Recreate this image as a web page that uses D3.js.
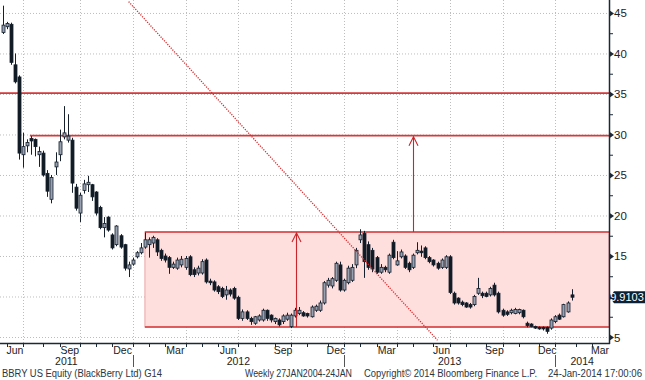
<!DOCTYPE html>
<html>
<head>
<meta charset="utf-8">
<script src="https://cdn.jsdelivr.net/npm/d3@7"></script>
<style>
  body { margin: 0; background: #fff; }
  svg { display: block; font-family: "Liberation Sans", Arial, sans-serif; }
</style>
</head>
<body>
<svg id="chart" width="645" height="380"></svg>
<script>
// Weekly bars, week ending Friday 20 May 2011 .. 24 Jan 2014
const firstWeek = new Date(2011, 4, 20);
const axisEnd = new Date(2014, 2, 29);

const openP = [42.6,43.3,43.6,38.6,37.1,27.5,28.6,29.5,29.4,27.5,27.7,25.2,22.0,26.0,27.5,29.7,29.3,29.3,23.5,20.3,
  23.1,23.8,23.8,22.9,21.0,18.5,19.8,17.6,16.4,17.5,16.4,13.4,14.0,14.9,15.4,16.1,16.4,16.6,17.0,15.7,
  15.0,14.8,13.6,13.5,13.9,13.6,14.9,13.3,12.9,12.9,14.5,11.9,11.8,11.2,11.0,10.2,10.8,11.0,9.9,7.3,
  8.1,7.3,6.7,7.1,7.1,8.3,7.7,6.9,7.1,6.9,7.2,6.3,7.6,7.9,8.0,7.9,7.5,8.3,8.3,9.2,
  11.4,11.3,12.0,13.9,10.8,11.7,12.0,13.9,17.0,17.8,16.4,15.7,14.8,13.0,13.6,13.0,16.7,13.9,14.9,15.0,
  14.1,13.6,15.4,15.6,16.0,14.8,14.5,14.1,13.6,13.6,14.9,10.4,9.8,9.3,9.2,9.0,9.0,10.4,10.4,10.4,
  10.2,11.4,10.4,8.3,8.1,8.0,7.9,8.0,8.3,6.7,6.6,6.3,6.2,6.2,6.2,6.1,6.9,7.7,7.5,8.1,
  10.2];
const highP = [45.9,43.9,43.8,40.0,37.3,30.2,29.4,29.8,29.5,28.5,28.0,25.6,25.0,27.8,30.6,33.5,32.5,29.6,23.9,22.8,
  24.4,24.9,23.9,23.0,21.2,19.8,19.9,17.8,18.8,17.7,16.5,14.3,14.8,15.6,16.6,17.9,17.3,17.5,17.2,15.9,
  15.3,15.0,14.3,14.8,15.0,15.0,15.1,13.6,13.8,14.6,14.7,12.2,12.0,11.4,11.2,11.3,11.0,11.2,10.1,8.4,
  8.3,7.5,7.6,7.8,8.5,8.4,7.8,7.4,7.3,7.8,8.0,7.9,8.6,8.7,8.2,8.0,8.9,9.0,9.5,11.9,
  12.3,12.4,14.3,14.3,12.2,13.8,14.0,16.0,18.3,18.1,16.8,16.0,15.0,14.0,13.8,15.3,17.0,15.6,15.8,15.2,
  14.3,15.3,16.7,16.3,16.2,15.0,14.6,14.3,14.7,15.1,15.1,10.6,9.9,9.5,9.3,9.2,10.2,12.3,10.6,10.6,
  11.2,11.7,10.6,8.5,8.3,8.5,8.6,8.5,8.4,6.9,6.7,6.4,6.3,6.3,6.3,7.3,7.7,7.9,9.1,9.4,
  10.9];
const lowP = [42.4,43.0,38.6,36.3,26.9,25.9,27.8,27.5,27.3,26.0,24.8,22.3,21.5,25.0,26.7,29.4,29.0,22.8,20.6,19.2,
  22.7,22.9,21.8,20.0,18.3,17.3,18.0,15.8,16.2,15.9,13.2,12.4,13.8,14.7,15.2,15.9,14.8,16.0,15.0,14.4,
  14.2,12.8,13.4,13.3,13.6,13.3,12.5,12.4,12.6,12.7,11.6,11.4,10.6,10.3,9.8,9.6,10.0,9.6,7.1,7.0,
  7.1,6.5,6.5,6.9,6.9,7.0,6.8,6.6,6.3,6.6,7.0,6.1,7.4,7.7,7.5,7.4,7.4,8.1,8.1,9.0,
  11.1,11.0,11.8,10.6,10.6,11.5,11.8,13.5,16.6,12.3,13.3,13.0,12.8,12.8,13.0,12.8,14.6,13.8,14.7,13.4,
  13.0,13.4,15.2,14.9,14.6,14.1,13.7,13.3,13.4,13.4,10.3,9.0,9.0,8.8,8.6,8.5,8.8,10.2,9.8,9.9,
  10.0,10.0,7.9,7.5,7.6,7.8,7.8,7.8,7.3,6.2,6.2,6.0,5.9,5.8,5.4,5.9,6.7,7.1,7.4,8.0,
  9.5];
const closeP = [43.5,43.7,38.9,36.5,27.7,28.5,29.0,29.2,28.5,27.9,25.0,23.0,24.7,26.6,29.1,30.2,29.8,24.0,20.9,22.5,
  23.9,24.1,22.3,20.3,18.5,19.0,18.2,16.0,18.7,16.1,13.5,13.9,14.5,15.4,16.0,17.0,17.0,17.3,15.5,14.7,
  14.5,13.6,14.0,14.5,14.6,14.7,12.7,12.7,13.5,14.3,11.8,11.7,10.8,10.6,10.0,10.8,10.3,9.8,7.3,8.1,
  7.3,6.9,7.5,7.6,8.3,7.3,7.1,7.3,6.5,7.6,7.7,7.7,8.3,8.3,7.6,7.6,8.7,8.8,9.2,11.7,
  12.0,12.2,14.1,10.8,12.0,13.5,13.6,15.7,17.6,14.3,13.6,13.4,13.0,13.6,13.3,15.1,14.8,14.4,15.5,13.6,
  13.3,15.1,15.7,15.4,14.8,14.3,13.9,13.5,14.5,14.9,10.5,9.2,9.2,9.0,8.7,8.7,10.0,11.0,10.1,10.0,
  11.0,10.2,8.1,7.7,7.8,8.3,8.4,8.4,7.5,6.4,6.3,6.1,6.0,6.0,5.7,7.1,7.5,7.2,9.0,9.2,
  9.91];

const yTicks = [5, 10, 15, 20, 25, 30, 35, 40, 45];
const yMinor = [7.5, 12.5, 17.5, 22.5, 27.5, 32.5, 37.5, 42.5];
const quarterMonths = ["Mar", "Jun", "Sep", "Dec"];
const lastLabel = "9.9103";

// annotations drawn on the chart
const levelValues = [35.1, 29.85];
const levelStartBar = [-0.66, 6.7];
const channelValues = [6.23, 17.96];
const channelStartBar = 35;
const arrowBars = [72.2, 101];
const trendBars = [31, 107];
const trendValues = [46.4, 4.6];

const footer = ["BBRY US Equity (BlackBerry Ltd) G14", "Weekly 27JAN2004-24JAN", "Copyright\u00a9 2014 Bloomberg Finance L.P.", "24-Jan-2014 17:00:06"];

const weeks = d3.timeFriday.range(firstWeek, axisEnd);
const bars = openP.map((o, i) => ({i: i, date: weeks[i], o: o, h: highP[i], l: lowP[i], c: closeP[i]}));

const svg = d3.select("#chart");
const plotW = 609, plotH = 343;

const x = d3.scaleLinear().domain([-0.66, 149.2]).range([0, plotW]);
const y = d3.scaleLinear().domain([4.26, 46.6]).range([plotH, 0]);

svg.append("defs").append("clipPath").attr("id", "plot")
  .append("rect").attr("width", plotW).attr("height", plotH);

// month end positions (last weekly bar of each month)
const monthEnds = [];
weeks.forEach((d, i) => {
  const nxt = weeks[i + 1];
  if (!nxt || nxt.getMonth() !== d.getMonth()) monthEnds.push({i: i, date: d});
});

// grid
const grid = svg.append("g").attr("stroke", "#bdbdbd").attr("stroke-dasharray", "1,2");
grid.selectAll("line.h").data(yTicks).join("line")
  .attr("x1", 0).attr("x2", plotW).attr("y1", d => y(d) + 0.5).attr("y2", d => y(d) + 0.5);
grid.selectAll("line.v").data(monthEnds.filter(m => m.date.getMonth() % 3 === 2 && x(m.i) < plotW - 2)).join("line")
  .attr("x1", d => Math.round(x(d.i)) + 0.5).attr("x2", d => Math.round(x(d.i)) + 0.5)
  .attr("y1", 0).attr("y2", plotH);

const plot = svg.append("g").attr("clip-path", "url(#plot)");

// channel box
plot.append("rect")
  .attr("x", x(channelStartBar)).attr("y", y(channelValues[1]))
  .attr("width", plotW - x(channelStartBar)).attr("height", y(channelValues[0]) - y(channelValues[1]))
  .attr("fill", "#ffdede").attr("stroke", "#eaa5a5").attr("stroke-width", 1);
plot.selectAll("line.ch").data(channelValues).join("line")
  .attr("x1", x(channelStartBar)).attr("x2", plotW)
  .attr("y1", d => y(d)).attr("y2", d => y(d))
  .attr("stroke", "#d6393a").attr("stroke-width", 1.6);

// horizontal levels
plot.selectAll("line.lv").data(levelValues).join("line")
  .attr("x1", (d, k) => x(levelStartBar[k])).attr("x2", plotW)
  .attr("y1", d => y(d)).attr("y2", d => y(d))
  .attr("stroke", "#d6393a").attr("stroke-width", 1.8);

// candles
const cg = plot.append("g");
cg.selectAll("line").data(bars).join("line")
  .attr("x1", d => Math.round(x(d.i)) + 0.5).attr("x2", d => Math.round(x(d.i)) + 0.5)
  .attr("y1", d => y(d.h)).attr("y2", d => y(d.l))
  .attr("stroke", "#15202c").attr("stroke-width", 1);
cg.selectAll("rect").data(bars).join("rect")
  .attr("x", d => Math.round(x(d.i)) - 1)
  .attr("y", d => y(Math.max(d.o, d.c)))
  .attr("width", 3)
  .attr("height", d => Math.max(1.5, Math.abs(y(d.o) - y(d.c))))
  .attr("fill", d => d.c >= d.o ? "#97a1b2" : "#111b26")
  .attr("stroke", "#15202c").attr("stroke-width", 0.8);

// dotted trend line
plot.append("line")
  .attr("x1", x(trendBars[0])).attr("y1", y(trendValues[0]))
  .attr("x2", x(trendBars[1])).attr("y2", y(trendValues[1]))
  .attr("stroke", "#d92b2d").attr("stroke-width", 1.3).attr("stroke-dasharray", "1.2,1.3");

// arrows
const arrowFrom = [channelValues[0], channelValues[1]];
const arrowTo = [channelValues[1], levelValues[1]];
arrowBars.forEach((b, k) => {
  const ax = Math.round(x(b)) + 0.5, y0 = y(arrowFrom[k]), y1 = y(arrowTo[k]);
  const a = plot.append("g").attr("stroke", "#c8262a").attr("fill", "none").attr("stroke-width", 1.1);
  a.append("line").attr("x1", ax).attr("x2", ax).attr("y1", y0).attr("y2", y1 + 1);
  a.append("path").attr("d", `M${ax - 4.5},${y1 + 10}L${ax},${y1 + 1}L${ax + 4.5},${y1 + 10}`);
});

// right axis
const axisColor = "#1b2836";
const lastClose = closeP[closeP.length - 1];
const ya = svg.append("g");
ya.append("line").attr("x1", plotW + 0.5).attr("x2", plotW + 0.5).attr("y1", 0).attr("y2", plotH + 1)
  .attr("stroke", axisColor).attr("stroke-width", 1.5);
ya.selectAll("path.t").data(yTicks).join("path")
  .attr("d", d => `M${plotW},${y(d) - 3}L${plotW + 5},${y(d) + 0.5}L${plotW},${y(d) + 4}Z`)
  .attr("fill", axisColor);
ya.selectAll("line.m").data(yMinor).join("line")
  .attr("x1", plotW).attr("x2", plotW + 4).attr("y1", d => y(d) + 0.5).attr("y2", d => y(d) + 0.5)
  .attr("stroke", axisColor);
// the price tag hides the label it sits on
ya.selectAll("text").data(yTicks.filter(d => Math.abs(y(d) - y(lastClose)) > 10)).join("text")
  .attr("x", plotW + 5).attr("y", d => y(d) + 4.5)
  .attr("font-size", 11.5).attr("fill", "#222").text(d => d);

// last price tag
const ly = y(lastClose);
svg.append("path")
  .attr("d", `M${plotW + 1},${ly}L${plotW + 5},${ly - 6}L645,${ly - 6}L645,${ly + 6}L${plotW + 5},${ly + 6}Z`)
  .attr("fill", "#0c2036");
svg.append("text").attr("x", 627).attr("y", ly + 4).attr("text-anchor", "middle")
  .attr("font-size", 11).attr("fill", "#fff").text(lastLabel);

// bottom axis
const xa = svg.append("g");
xa.append("line").attr("x1", 0).attr("x2", plotW + 1).attr("y1", plotH + 0.5).attr("y2", plotH + 0.5)
  .attr("stroke", axisColor).attr("stroke-width", 1.5);
xa.selectAll("line.t").data(monthEnds.filter(m => x(m.i) < plotW - 2)).join("line")
  .attr("x1", d => Math.round(x(d.i)) + 0.5).attr("x2", d => Math.round(x(d.i)) + 0.5)
  .attr("y1", plotH).attr("y2", plotH + 4).attr("stroke", axisColor);

const fmtMonth = d3.timeFormat("%b");
const labelled = monthEnds.map((m, k) => ({m: m, prev: k > 0 ? monthEnds[k - 1].i : null}))
  .filter(d => d.prev !== null && quarterMonths.includes(fmtMonth(d.m.date)));
xa.selectAll("text.mo").data(labelled).join("text")
  .attr("x", d => (x(d.prev) + x(d.m.i)) / 2).attr("y", 354)
  .attr("text-anchor", "middle").attr("font-size", 10.5).attr("fill", "#222")
  .text(d => fmtMonth(d.m.date));

// years
const decEnds = monthEnds.filter(m => m.date.getMonth() === 11);
xa.selectAll("line.yr").data(decEnds).join("line")
  .attr("x1", d => Math.round(x(d.i)) + 0.5).attr("x2", d => Math.round(x(d.i)) + 0.5)
  .attr("y1", 355).attr("y2", 367).attr("stroke", "#555");
const years = d3.range(weeks[0].getFullYear(), weeks[weeks.length - 1].getFullYear() + 1);
xa.selectAll("text.yr").data(years).join("text")
  .attr("x", yr => {
    const a = decEnds.find(d => d.date.getFullYear() === yr - 1);
    const b = decEnds.find(d => d.date.getFullYear() === yr);
    return ((a ? x(a.i) : 0) + (b ? x(b.i) : plotW)) / 2;
  })
  .attr("y", 365).attr("text-anchor", "middle").attr("font-size", 10.5).attr("fill", "#222")
  .text(d => d);

// footer
const footX = [2, 245, 364, 548];
const footW = [160, 107, 173, 94];
svg.selectAll("text.ft").data(footer).join("text")
  .attr("x", (d, k) => footX[k]).attr("y", 376.5)
  .attr("textLength", (d, k) => footW[k]).attr("lengthAdjust", "spacingAndGlyphs")
  .attr("font-size", 10).attr("fill", "#2b3642").text(d => d);
</script>
</body>
</html>
